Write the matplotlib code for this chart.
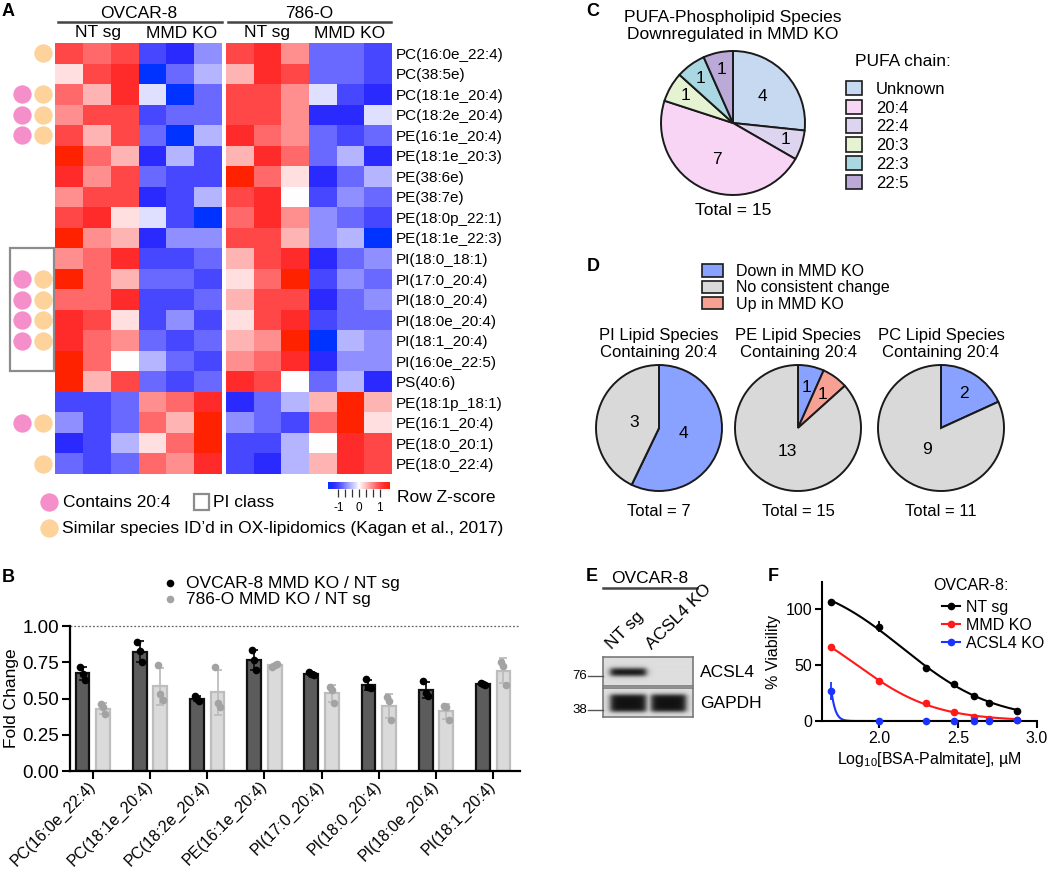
import numpy as np
import matplotlib
matplotlib.use('Agg')
import matplotlib.pyplot as plt
from matplotlib.colors import LinearSegmentedColormap
from matplotlib.patches import Rectangle, Patch
from matplotlib.lines import Line2D

plt.rcParams['font.family'] = ['Liberation Sans', 'DejaVu Sans']
plt.rcParams['mathtext.fontset'] = 'custom'
plt.rcParams['mathtext.rm'] = 'Liberation Sans'

W, H = 1050, 871

# ---------------- A: heatmap data ----------------
species = ['PC(16:0e_22:4)', 'PC(38:5e)', 'PC(18:1e_20:4)', 'PC(18:2e_20:4)',
           'PE(16:1e_20:4)', 'PE(18:1e_20:3)', 'PE(38:6e)', 'PE(38:7e)',
           'PE(18:0p_22:1)', 'PE(18:1e_22:3)', 'PI(18:0_18:1)', 'PI(17:0_20:4)',
           'PI(18:0_20:4)', 'PI(18:0e_20:4)', 'PI(18:1_20:4)', 'PI(16:0e_22:5)',
           'PS(40:6)', 'PE(18:1p_18:1)', 'PE(16:1_20:4)', 'PE(18:0_20:1)',
           'PE(18:0_22:4)']
# columns: NT sg x3, MMD KO x3
z_ovcar8 = [
    [1.0, 0.8, 1.0, -1.0, -1.25, -0.6],
    [0.15, 1.0, 1.25, -1.5, -0.8, -0.4],
    [0.8, 0.4, 1.25, -0.15, -1.5, -0.8],
    [0.6, 1.0, 1.0, -1.0, -0.8, -0.8],
    [1.0, 0.4, 1.0, -0.8, -1.5, -0.4],
    [1.5, 0.8, 0.4, -1.25, -0.4, -1.0],
    [1.25, 0.6, 1.0, -0.8, -1.0, -1.0],
    [0.6, 1.0, 1.0, -1.25, -1.0, -0.4],
    [1.0, 1.25, 0.15, -0.15, -1.0, -1.5],
    [1.5, 0.6, 0.4, -1.25, -0.6, -0.6],
    [0.6, 0.8, 1.25, -1.0, -1.0, -0.8],
    [1.5, 0.8, 0.4, -0.8, -0.8, -1.0],
    [0.8, 0.8, 1.25, -1.0, -1.0, -0.8],
    [1.25, 1.0, 0.15, -1.0, -0.6, -1.0],
    [1.25, 0.8, 0.6, -0.8, -1.0, -0.8],
    [1.5, 0.8, 0.0, -0.4, -0.8, -1.0],
    [1.5, 0.4, 1.0, -0.8, -1.0, -0.8],
    [-1.0, -1.0, -0.8, 0.6, 0.8, 1.25],
    [-0.6, -1.0, -0.8, 0.8, 0.4, 1.5],
    [-1.25, -1.0, -0.4, 0.15, 0.8, 1.5],
    [-0.8, -1.0, -0.8, 0.8, 0.6, 1.25],
]
z_786o = [
    [1.0, 1.25, 0.6, -0.8, -0.8, -1.0],
    [0.4, 1.25, 1.0, -0.8, -0.8, -1.0],
    [1.0, 1.0, 0.6, -0.15, -1.0, -1.25],
    [1.0, 1.0, 0.6, -1.25, -1.25, -0.15],
    [1.25, 0.8, 0.6, -0.8, -1.0, -0.8],
    [0.4, 1.25, 0.8, -0.8, -0.4, -1.25],
    [1.5, 0.8, 0.15, -1.25, -0.8, -0.4],
    [1.0, 1.25, 0.0, -1.0, -0.6, -0.8],
    [0.8, 1.25, 0.6, -0.6, -0.8, -1.0],
    [1.0, 1.0, 0.4, -0.6, -0.4, -1.5],
    [0.4, 1.0, 1.25, -1.25, -0.8, -0.6],
    [0.15, 0.8, 1.5, -1.0, -0.6, -0.8],
    [0.4, 1.0, 1.0, -1.25, -0.8, -0.6],
    [0.15, 1.0, 1.25, -1.0, -0.8, -0.8],
    [0.4, 0.6, 1.5, -1.5, -0.4, -0.6],
    [0.6, 0.8, 1.25, -1.25, -0.6, -0.6],
    [1.25, 1.0, 0.0, -0.8, -0.4, -1.25],
    [-1.25, -0.8, -0.4, 0.4, 1.5, 0.4],
    [-0.6, -0.8, -1.0, 0.8, 1.5, 0.15],
    [-1.0, -1.0, -0.4, 0.0, 1.25, 1.0],
    [-1.0, -1.25, -0.4, 0.4, 1.25, 1.0],
]
contains_204 = [0, 0, 1, 1, 1, 0, 0, 0, 0, 0, 0, 1, 1, 1, 1, 0, 0, 0, 1, 0, 0]
ox_lipidomics = [1, 0, 1, 1, 1, 0, 0, 0, 0, 0, 0, 1, 1, 1, 1, 0, 0, 0, 1, 0, 1]

# ---------------- B: fold change ----------------
b_species = ['PC(16:0e_22:4)', 'PC(18:1e_20:4)', 'PC(18:2e_20:4)', 'PE(16:1e_20:4)',
             'PI(17:0_20:4)', 'PI(18:0_20:4)', 'PI(18:0e_20:4)', 'PI(18:1_20:4)']
fc_ovcar8 = [[0.72, 0.67, 0.63], [0.89, 0.83, 0.75], [0.52, 0.50, 0.48],
             [0.835, 0.765, 0.70], [0.68, 0.67, 0.66], [0.635, 0.58, 0.57],
             [0.62, 0.535, 0.52], [0.61, 0.60, 0.595]]
fc_786o = [[0.46, 0.44, 0.39], [0.73, 0.53, 0.49], [0.72, 0.47, 0.44],
           [0.72, 0.73, 0.735], [0.58, 0.56, 0.47], [0.51, 0.485, 0.35],
           [0.445, 0.44, 0.35], [0.755, 0.725, 0.595]]

# ---------------- C: PUFA pie ----------------
pufa_chain = ['Unknown', '22:4', '20:4', '20:3', '22:3', '22:5']
pufa_count = [4, 1, 7, 1, 1, 1]
pufa_color = ['#c6d9f1', '#ddd5f0', '#f9d5f5', '#e6f3d3', '#a9d8e2', '#bba9d8']
pufa_legend_order = ['Unknown', '20:4', '22:4', '20:3', '22:3', '22:5']

# ---------------- D: 20:4 pies ----------------
d_classes = ['PI', 'PE', 'PC']
d_down = [4, 1, 2]
d_up = [0, 1, 0]
d_none = [3, 13, 9]

# ---------------- E: blot ----------------
blot_lanes = ['NT sg', 'ACSL4 KO']
acsl4_signal = [1.0, 0.0]
gapdh_signal = [1.0, 1.0]

# ---------------- F: viability ----------------
log_conc = np.array([1.699, 2.0, 2.301, 2.477, 2.602, 2.699, 2.875])
via_nt = [106, 84, 47, 33, 22, 16.5, 9]
via_nt_err = [2, 5, 1.5, 3, 3, 1, 1]
via_mmd = [66, 36, 16, 8, 3.5, 1.5, 0.5]
via_mmd_err = [1, 1, 3, 1, 1, 1, 0.5]
via_acsl4 = [27, 0.3, 0.3, 0.3, 0.3, 0.3, 1.2]
via_acsl4_err = [8, 0.3, 0.3, 0.3, 0.3, 0.3, 1.0]

PINK = '#f58fca'
PEACH = '#fdd39b'


def px_axes(fig, x0, y0, x1, y1):
    return fig.add_axes([x0 / W, 1 - y1 / H, (x1 - x0) / W, (y1 - y0) / H])


fig = plt.figure(figsize=(W / 100, H / 100), dpi=100)
ov = fig.add_axes([0, 0, 1, 1], zorder=10)
ov.set_xlim(0, W)
ov.set_ylim(H, 0)
ov.axis('off')

# panel letters
for lab, x, y in [('A', 2, 12), ('B', 2, 577), ('C', 586, 12), ('D', 587, 266),
                  ('E', 586, 576), ('F', 768, 576)]:
    ov.text(x, y, lab, fontsize=13, fontweight='bold', ha='left', va='center')

# ================= A =================
nodes = [(0.0, '#0033ff'), (0.0833, '#2a2aff'), (0.1667, '#4848ff'), (0.2333, '#6a6aff'),
         (0.3, '#9090ff'), (0.3667, '#b5b5ff'), (0.45, '#dedeff'), (0.5, '#ffffff'),
         (0.55, '#ffdede'), (0.6333, '#ffb5b5'), (0.7, '#ff9090'), (0.7667, '#ff6a6a'),
         (0.8333, '#ff4848'), (0.9167, '#ff2a2a'), (1.0, '#ff2200')]
zmap = LinearSegmentedColormap.from_list('zscore', nodes)
n = len(species)

ax_a1 = px_axes(fig, 55, 43, 222, 474)
mesh = ax_a1.pcolormesh(np.array(z_ovcar8), cmap=zmap, vmin=-1.5, vmax=1.5)
ax_a1.set_ylim(n, 0)
ax_a1.axis('off')

ax_a2 = px_axes(fig, 226, 43, 392, 474)
ax_a2.pcolormesh(np.array(z_786o), cmap=zmap, vmin=-1.5, vmax=1.5)
ax_a2.set_ylim(n, 0)
for s in ax_a2.spines.values():
    s.set_visible(False)
ax_a2.set_xticks([])
ax_a2.yaxis.tick_right()
ax_a2.set_yticks(np.arange(n) + 0.5)
ax_a2.set_yticklabels(species, fontsize=11)
ax_a2.tick_params(axis='y', length=0, pad=3)

# annotation dots + PI box
ax_dot = px_axes(fig, 0, 43, 55, 474)
ax_dot.set_xlim(0, 55)
ax_dot.set_ylim(n, 0)
ax_dot.axis('off')
rows = np.arange(n) + 0.5
c204 = np.array(contains_204) == 1
oxl = np.array(ox_lipidomics) == 1
ax_dot.scatter(np.full(c204.sum(), 22), rows[c204], s=175, color=PINK, lw=0, clip_on=False)
ax_dot.scatter(np.full(oxl.sum(), 43), rows[oxl], s=175, color=PEACH, lw=0, clip_on=False)
pi_rows = [i for i, sp in enumerate(species) if sp.startswith('PI(')]
ax_dot.add_patch(Rectangle((10, min(pi_rows)), 44, max(pi_rows) - min(pi_rows) + 1,
                           fill=False, ec='#8c8c8c', lw=1.6, clip_on=False))

# headers
for txt, xc, x0, x1 in [('OVCAR-8', 139, 58, 222), ('786-O', 309, 228, 391)]:
    ov.text(xc, 13, txt, fontsize=12.5, ha='center', va='center')
    ov.plot([x0, x1], [22, 22], color='#444444', lw=1.8)
for txt, xc in [('NT sg', 98), ('MMD KO', 182), ('NT sg', 267), ('MMD KO', 350)]:
    ov.text(xc, 33, txt, fontsize=12.5, ha='center', va='center')

# colorbar
cax = px_axes(fig, 328, 482, 390, 489)
cb = fig.colorbar(mesh, cax=cax, orientation='horizontal')
cb.outline.set_visible(False)
cb.set_ticks(np.linspace(-1, 1, 7))
cb.set_ticklabels(['-1', '', '', '0', '', '', '1'])
cax.tick_params(length=6, width=0.9, labelsize=8.5, pad=3, color='#333333')
ov.text(397, 497, 'Row Z-score', fontsize=12.5, ha='left', va='center')

# A legend
ov.scatter([49], [502], s=175, color=PINK, lw=0)
ov.text(63, 502, 'Contains 20:4', fontsize=12.5, ha='left', va='center')
ov.add_patch(Rectangle((194, 494), 15, 16, fill=False, ec='#8c8c8c', lw=1.6))
ov.text(213, 502, 'PI class', fontsize=12.5, ha='left', va='center')
ov.scatter([49], [528], s=175, color=PEACH, lw=0)
ov.text(62, 528, 'Similar species ID\u2019d in OX-lipidomics (Kagan et al., 2017)',
        fontsize=12.5, ha='left', va='center')

# ================= B =================
ax_b = px_axes(fig, 70, 626, 520, 771)
xb = np.arange(len(b_species))
jit = np.array([-0.04, 0.0, 0.04])
for reps, off, fc, ec, pc in [(np.array(fc_ovcar8), -0.18, '#5c5c5c', '#111111', '#000000'),
                              (np.array(fc_786o), 0.18, '#dadada', '#bdbdbd', '#a3a3a3')]:
    m = reps.mean(axis=1)
    sd = reps.std(axis=1, ddof=1)
    ax_b.bar(xb + off, m, 0.24, color=fc, edgecolor=ec, lw=1.6, zorder=2)
    ax_b.errorbar(xb + off, m, yerr=sd, fmt='none', ecolor=ec, elinewidth=1.3,
                  capsize=3, capthick=1.3, zorder=3)
    for j in range(reps.shape[1]):
        ax_b.plot(xb + off + jit[j], reps[:, j], 'o', ms=5.5, color=pc, mew=0, zorder=4)
ax_b.axhline(1.0, color='#666666', lw=0.9, ls=(0, (1.5, 1.5)), zorder=1, clip_on=False)
ax_b.set_xlim(-0.4, 7.47)
ax_b.set_ylim(0, 1.0)
ax_b.set_yticks([0, 0.25, 0.5, 0.75, 1.0])
ax_b.set_yticklabels(['0.00', '0.25', '0.50', '0.75', '1.00'], fontsize=13.5)
ax_b.set_xticks(xb)
ax_b.set_xticklabels(b_species, rotation=45, ha='right', va='center',
                     rotation_mode='anchor', fontsize=11.5)
ax_b.tick_params(axis='x', length=6, width=1.5, pad=3)
ax_b.tick_params(axis='y', length=6, width=1.5, pad=2)
for s in ['top', 'right']:
    ax_b.spines[s].set_visible(False)
for s in ['left', 'bottom']:
    ax_b.spines[s].set_linewidth(1.6)
ax_b.set_ylabel('Fold Change', fontsize=12.5, labelpad=2)
ax_b.patch.set_alpha(0)

ov.scatter([170], [583], s=30, color='black', lw=0)
ov.text(186, 583, 'OVCAR-8 MMD KO / NT sg', fontsize=12.5, ha='left', va='center')
ov.scatter([170], [599], s=30, color='#a3a3a3', lw=0)
ov.text(186, 599, '786-O MMD KO / NT sg', fontsize=12.5, ha='left', va='center')

# ================= C =================
rc = 72
ax_c = px_axes(fig, 733 - rc * 1.03, 123 - rc * 1.03, 733 + rc * 1.03, 123 + rc * 1.03)
ax_c.pie(pufa_count, colors=pufa_color, startangle=90, counterclock=False,
         wedgeprops=dict(edgecolor='#1a1a1a', linewidth=1.4))
ax_c.set_xlim(-1.03, 1.03)
ax_c.set_ylim(-1.03, 1.03)
tot = sum(pufa_count)
cum = 0
for cnt in pufa_count:
    th = np.deg2rad(90 - 360 * (cum + cnt / 2) / tot)
    r = 0.55 if cnt > 2 else 0.76
    ax_c.text(r * np.cos(th), r * np.sin(th), str(cnt), fontsize=12.5, ha='center', va='center')
    cum += cnt
ov.text(733, 26, 'PUFA-Phospholipid Species\nDownregulated in MMD KO', fontsize=12.5,
        ha='center', va='center', linespacing=1.2)
ov.text(733, 210, 'Total = %d' % tot, fontsize=12.5, ha='center', va='center')
ov.text(855, 62, 'PUFA chain:', fontsize=12.5, ha='left', va='center')
cmap_c = dict(zip(pufa_chain, pufa_color))
handles_c = [Patch(facecolor=cmap_c[k], edgecolor='#1a1a1a', lw=1.2, label=k)
             for k in pufa_legend_order]
fig.legend(handles=handles_c, loc='upper left', bbox_to_anchor=(846 / W, 1 - 81 / H),
           frameon=False, fontsize=12, handlelength=0.95, handleheight=0.95,
           handletextpad=0.85, labelspacing=0.17, borderpad=0, borderaxespad=0)

# ================= D =================
d_colors = ['#8aa2ff', '#f7a195', '#d9d9d9']
rd = 63
for k, xc in enumerate([659, 798, 941]):
    ax = px_axes(fig, xc - rd * 1.03, 428 - rd * 1.03, xc + rd * 1.03, 428 + rd * 1.03)
    vals = [d_down[k], d_up[k], d_none[k]]
    ax.pie(vals, colors=d_colors, startangle=90, counterclock=False,
           wedgeprops=dict(edgecolor='#1a1a1a', linewidth=1.4))
    ax.set_xlim(-1.03, 1.03)
    ax.set_ylim(-1.03, 1.03)
    tot = sum(vals)
    cum = 0
    for v in vals:
        if v > 0:
            th = np.deg2rad(90 - 360 * (cum + v / 2) / tot)
            r = 0.4 if v / tot > 0.3 else 0.66
            ax.text(r * np.cos(th), r * np.sin(th), str(v), fontsize=12.5,
                    ha='center', va='center')
        cum += v
    ov.text(xc, 344, '%s Lipid Species\nContaining 20:4' % d_classes[k], fontsize=12,
            ha='center', va='center', linespacing=1.2)
    ov.text(xc, 511, 'Total = %d' % tot, fontsize=12, ha='center', va='center')
handles_d = [Patch(facecolor=d_colors[0], edgecolor='#1a1a1a', lw=1.2, label='Down in MMD KO'),
             Patch(facecolor=d_colors[2], edgecolor='#1a1a1a', lw=1.2, label='No consistent change'),
             Patch(facecolor=d_colors[1], edgecolor='#1a1a1a', lw=1.2, label='Up in MMD KO')]
fig.legend(handles=handles_d, loc='upper left', bbox_to_anchor=(702 / W, 1 - 264 / H),
           frameon=False, fontsize=11.5, handlelength=1.3, handleheight=0.8,
           handletextpad=0.8, labelspacing=0.08, borderpad=0, borderaxespad=0)

# ================= E =================
def draw_blot(ax, signal, band_y, band_h):
    xx = np.linspace(0, 1, 180)[None, :]
    yy = np.linspace(0, 1, 60)[:, None]
    img = np.zeros((60, 180))
    for c, w, lv in zip([0.28, 0.73], [0.40, 0.39], signal):
        px_ = 1 / (1 + np.exp((np.abs(xx - c) - w / 2) / 0.02))
        py_ = 1 / (1 + np.exp((np.abs(yy - band_y) - band_h / 2) / 0.04))
        img = np.maximum(img, lv * px_ * py_)
    ax.imshow(0.87 - 0.8 * img, cmap='gray', vmin=0, vmax=1, extent=(0, 1, 1, 0),
              aspect='auto', interpolation='bilinear')
    ax.set_xticks([])
    ax.set_yticks([])
    for s in ax.spines.values():
        s.set_color('#7a7a7a')
        s.set_linewidth(1.2)


ax_e1 = px_axes(fig, 603, 657, 693, 686)
draw_blot(ax_e1, acsl4_signal, 0.52, 0.26)
ax_e2 = px_axes(fig, 603, 688, 693, 717)
draw_blot(ax_e2, gapdh_signal, 0.52, 0.6)
ov.text(700, 672, 'ACSL4', fontsize=12.5, ha='left', va='center')
ov.text(700, 703, 'GAPDH', fontsize=12.5, ha='left', va='center')
for mw, y in [('76', 676), ('38', 710)]:
    ov.plot([588, 603], [y, y], color='#555555', lw=1)
    ov.text(587, y, mw, fontsize=9.5, ha='right', va='center')
ov.text(650, 578, 'OVCAR-8', fontsize=12.5, ha='center', va='center')
ov.plot([603, 697], [588, 588], color='#444444', lw=1.8)
for lane, x in zip(blot_lanes, [614, 654]):
    ov.text(x, 652, lane, fontsize=12.5, rotation=45, ha='left', va='bottom',
            rotation_mode='anchor')

# ================= F =================
def hill_fit(xv, yv):
    top = np.linspace(60, 130, 36)[:, None, None, None]
    ic = np.linspace(1.3, 3.0, 171)[None, :, None, None]
    hs = np.linspace(0.5, 20, 79)[None, None, :, None]
    pred = top / (1 + 10 ** ((xv[None, None, None, :] - ic) * hs))
    # small preference for the steeper fit when several fit equally well
    sse = ((pred - np.asarray(yv)) ** 2).sum(-1) - 0.01 * hs[..., 0]
    i, j, k = np.unravel_index(np.argmin(sse), sse.shape)
    return top.ravel()[i], ic.ravel()[j], hs.ravel()[k]


ax_f = px_axes(fig, 822, 582, 1037, 721)
xs = np.linspace(log_conc.min(), log_conc.max(), 400)
f_handles = []
for yv, ye, col, lab in [(via_nt, via_nt_err, '#000000', 'NT sg'),
                         (via_mmd, via_mmd_err, '#ff1a1a', 'MMD KO'),
                         (via_acsl4, via_acsl4_err, '#1a33ff', 'ACSL4 KO')]:
    t, c, h = hill_fit(log_conc, yv)
    ax_f.plot(xs, t / (1 + 10 ** ((xs - c) * h)), color=col, lw=1.5, zorder=2)
    ax_f.errorbar(log_conc, yv, yerr=ye, fmt='o', color=col, ms=5.5, mew=0,
                  elinewidth=1.3, capsize=3, capthick=1.3, zorder=3, clip_on=False)
    f_handles.append(Line2D([], [], color=col, lw=1.5, marker='o', ms=5.5, mew=0, label=lab))
ax_f.set_xlim(1.64, 3.0)
ax_f.set_ylim(0, 124)
ax_f.set_xticks([2.0, 2.5, 3.0])
ax_f.set_xticklabels(['2.0', '2.5', '3.0'], fontsize=11.5)
ax_f.set_yticks([0, 50, 100])
ax_f.set_yticklabels(['0', '50', '100'], fontsize=11.5)
ax_f.tick_params(length=5, width=1.5, pad=2)
for s in ['top', 'right']:
    ax_f.spines[s].set_visible(False)
for s in ['left', 'bottom']:
    ax_f.spines[s].set_linewidth(1.5)
ax_f.set_ylabel('% Viability', fontsize=11.5, labelpad=3)
ax_f.set_xlabel('Log$_{\\mathregular{10}}$[BSA-Palmitate], \u00b5M', fontsize=11.5, labelpad=3)
ax_f.patch.set_alpha(0)
ov.text(933, 585, 'OVCAR-8:', fontsize=11.5, ha='left', va='center')
ax_f.legend(handles=f_handles, loc='upper left', bbox_to_anchor=(942 / W, 1 - 600 / H),
            bbox_transform=fig.transFigure, frameon=False, fontsize=11.5,
            handlelength=1.15, handletextpad=0.35, labelspacing=0.18,
            borderpad=0, borderaxespad=0)

fig.savefig('out.png', dpi=100)
